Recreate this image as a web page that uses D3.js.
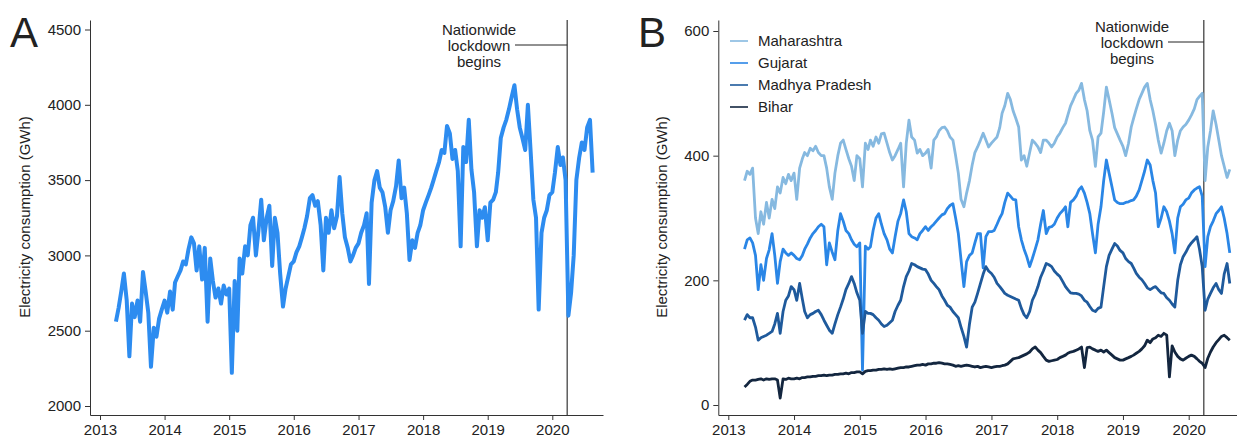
<!DOCTYPE html>
<html>
<head>
<meta charset="utf-8">
<script src="https://cdn.jsdelivr.net/npm/d3@7"></script>
<style>
  body { margin: 0; background: #fff; }
  text { font-family: "Liberation Sans", Arial, Helvetica, sans-serif; fill: #222; }
</style>
</head>
<body>
<script>
// semi-monthly readings (1st and 16th of each month), Apr 2013 - Aug 2020
let yearTicks = [2013, 2014, 2015, 2016, 2017, 2018, 2019, 2020];
let ticksA = [2000, 2500, 3000, 3500, 4000, 4500];
let ticksB = [0, 200, 400, 600];
let lockdown = new Date(2020, 2, 25);
let noteLines = ["Nationwide", "lockdown", "begins"];

let india = [
  2560,2650,2760,2880,2700,2330,2680,2590,2700,2560,2890,2760,2620,2260,2520,2460,2580,2640,
  2700,2620,2760,2640,2820,2860,2900,2960,2940,3040,3120,3080,2900,3060,2840,3050,2560,2980,2830,2720,2780,2680,2800,2740,
  2780,2220,2830,2500,2980,2880,3060,3000,3200,3250,3000,3170,3370,3100,3250,3330,2930,3250,3150,2880,2660,2780,2860,2940,
  2960,3020,3060,3120,3180,3260,3380,3400,3330,3360,3200,2900,3250,3150,3300,3180,3260,3520,3280,3120,3050,2960,3000,3050,
  3080,3150,3200,3280,2810,3350,3500,3560,3450,3420,3320,3150,3300,3360,3460,3630,3380,3450,3280,2970,3100,3050,3150,3200,
  3300,3350,3400,3450,3500,3560,3620,3700,3680,3860,3810,3640,3700,3560,3060,3720,3620,3900,3570,3420,3060,3300,3250,3320,
  3100,3350,3370,3420,3550,3780,3850,3900,3970,4050,4130,3970,3850,3780,3700,4000,3680,3370,3250,2640,3150,3250,3300,3400,
  3420,3550,3720,3600,3650,3500,2600,2750,3000,3500,3650,3750,3700,3850,3900,3550
];

let maharashtra = [
  360,375,370,380,300,275,310,290,325,300,330,315,350,340,365,355,370,360,
  372,330,380,395,405,400,412,408,415,405,400,400,380,350,330,372,400,420,425,410,395,383,360,400,
  395,350,420,410,425,415,430,420,435,436,420,405,393,400,410,420,350,420,457,430,425,404,410,400,
  404,410,380,425,430,440,445,446,440,430,425,400,372,330,318,340,360,385,405,414,425,436,425,414,
  420,425,430,445,468,480,500,490,472,460,446,393,400,383,405,425,420,414,405,425,425,420,414,420,
  430,436,445,452,465,480,490,500,505,516,490,472,440,425,383,430,436,470,510,490,468,445,435,425,
  415,400,420,446,460,475,490,500,510,516,490,472,450,425,404,420,440,452,440,400,425,440,446,450,
  457,465,475,490,495,500,360,414,440,472,450,425,400,383,365,378
];

let gujarat = [
  250,265,268,260,240,185,225,200,235,249,275,240,195,230,250,244,240,244,
  240,235,233,240,250,258,268,275,280,286,290,286,225,260,245,233,280,307,295,280,275,265,258,254,
  260,56,255,250,254,280,300,307,290,275,265,250,244,270,295,307,329,310,275,270,268,265,275,280,
  286,280,286,290,295,300,305,307,315,320,323,300,275,233,190,230,240,244,260,275,275,220,270,278,
  278,280,290,300,307,325,340,335,330,329,286,265,250,238,222,235,250,265,290,312,275,285,286,290,
  300,307,312,318,286,325,329,335,345,350,340,325,307,275,244,290,318,360,393,372,350,329,325,323,
  323,325,326,328,329,335,345,360,375,393,385,360,340,286,300,318,310,295,275,244,300,318,322,329,
  332,340,345,348,350,335,222,270,286,295,307,312,318,300,275,244
];

let madhyaPradesh = [
  136,145,140,140,125,104,108,110,112,115,118,130,147,115,150,168,175,190,
  185,168,195,170,150,140,145,147,150,152,145,136,128,120,115,130,145,157,170,185,195,206,195,180,
  168,115,150,147,147,145,140,136,130,126,128,132,136,150,160,168,190,206,215,227,225,222,220,218,
  217,210,200,195,190,185,175,168,160,157,150,145,140,125,110,93,130,157,165,179,195,210,222,215,
  211,205,195,190,185,179,176,174,172,170,168,155,145,140,150,168,178,190,205,215,227,225,222,215,
  210,206,198,190,185,180,179,179,178,175,168,165,158,152,150,155,157,190,222,240,250,259,255,248,
  244,235,230,227,220,211,205,201,195,188,185,188,190,185,180,179,172,168,162,157,200,225,238,245,
  254,260,265,270,250,222,152,170,179,188,195,185,179,210,227,195
];

let bihar = [
  29,33,38,40,40,41,42,40,42,41,42,42,40,11,42,41,43,42,
  42,43,42,44,44,45,45,46,46,47,47,48,47,48,48,49,49,50,50,51,50,52,52,53,
  53,50,54,55,55,56,56,57,57,58,57,58,57,58,59,60,60,61,61,62,63,64,64,65,
  64,66,66,67,67,68,67,66,66,65,64,62,63,62,63,64,63,62,61,62,60,61,62,61,
  60,61,62,62,63,64,66,70,74,75,76,78,80,82,85,90,93,88,84,78,72,70,71,72,
  73,76,78,80,83,85,86,88,90,93,60,92,93,90,88,86,88,85,88,84,80,76,74,72,
  72,74,76,78,80,83,86,90,95,104,100,106,108,112,110,115,112,45,95,85,78,74,72,75,
  78,80,78,74,70,67,60,75,85,93,100,105,110,112,108,104
];

let states = ["Maharashtra", "Gujarat", "Madhya Pradesh", "Bihar"];
let stateValues = [maharashtra, gujarat, madhyaPradesh, bihar];
let stateColors = ["#86b9e0", "#2a86e6", "#1f5a9c", "#13263f"];

let months = d3.timeMonth.range(new Date(2013, 3, 1), new Date(2020, 8, 1));
let dates = months.flatMap(m => [m, d3.timeDay.offset(m, 15)]);

let width = 1237, height = 439;
let svg = d3.select("body").append("svg")
  .attr("width", width)
  .attr("height", height);

function makePanel(o) {
  // x: place 2013 and 2020 ticks, then stretch domain to the axis ends
  let x = d3.scaleTime()
    .domain([new Date(2013, 0, 1), new Date(2020, 0, 1)])
    .range([o.x2013, o.x2020]);
  x.domain([x.invert(o.left), x.invert(o.right)]).range([o.left, o.right]);

  let y = d3.scaleLinear().domain(o.yDom).range(o.yPix);
  y.domain([y.invert(415), y.invert(20)]).range([415, 20]);

  let g = svg.append("g");

  g.append("g")
    .attr("transform", "translate(0,415)")
    .call(d3.axisBottom(x)
      .tickValues(yearTicks.map(d => new Date(d, 0, 1)))
      .tickFormat(d3.timeFormat("%Y"))
      .tickSize(5).tickSizeOuter(0).tickPadding(4));

  g.append("g")
    .attr("transform", "translate(" + o.left + ",0)")
    .call(d3.axisLeft(y)
      .tickValues(o.ticks)
      .tickFormat(d3.format("d"))
      .tickSize(5).tickSizeOuter(0).tickPadding(4));

  g.selectAll(".domain, .tick line").attr("stroke", "#333");
  g.selectAll(".tick text")
    .attr("font-family", null)
    .style("font-size", "15px");

  // y label
  g.append("text")
    .attr("transform", "translate(" + o.labelX + ",217) rotate(-90)")
    .attr("text-anchor", "middle")
    .attr("dy", "0.35em")
    .style("font-size", "15px")
    .text("Electricity consumption (GWh)");

  // panel letter
  g.append("text")
    .attr("x", o.letterX).attr("y", 47)
    .style("font-size", "42px")
    .text(o.letter);

  // lockdown line + note
  let lx = x(lockdown);
  g.append("line")
    .attr("x1", lx).attr("x2", lx)
    .attr("y1", 20).attr("y2", 415)
    .attr("stroke", "#222").attr("stroke-width", 1.1);

  g.append("line")
    .attr("x1", o.noteX + 36).attr("x2", lx)
    .attr("y1", o.noteY + 15).attr("y2", o.noteY + 15)
    .attr("stroke", "#222").attr("stroke-width", 1);

  g.selectAll(".note")
    .data(noteLines)
    .enter()
    .append("text")
    .attr("x", o.noteX)
    .attr("y", (d, i) => o.noteY + i * 16)
    .attr("dy", "0.35em")
    .attr("text-anchor", "middle")
    .style("font-size", "15px")
    .text(d => d);

  return {x: x, y: y, g: g};
}

// Panel A
let A = makePanel({
  left: 90, right: 603, x2013: 100, x2020: 552.3,
  yDom: [2000, 4500], yPix: [406, 29.5], ticks: ticksA,
  labelX: 25, letter: "A", letterX: 10, noteX: 479, noteY: 30
});

let lineA = d3.line()
  .x((d, i) => A.x(dates[i]))
  .y(d => A.y(d));

A.g.append("path")
  .datum(india)
  .attr("fill", "none")
  .attr("stroke", "#2d8cf0")
  .attr("stroke-width", 4)
  .attr("stroke-linejoin", "round")
  .attr("d", lineA);

// Panel B
let B = makePanel({
  left: 718.3, right: 1237, x2013: 728.3, x2020: 1188.7,
  yDom: [0, 600], yPix: [405, 31], ticks: ticksB,
  labelX: 661.5, letter: "B", letterX: 638, noteX: 1132, noteY: 27
});

let lineB = d3.line()
  .x((d, i) => B.x(dates[i]))
  .y(d => B.y(d));

B.g.selectAll(".state")
  .data(stateValues)
  .enter()
  .append("path")
  .attr("fill", "none")
  .attr("stroke", (d, i) => stateColors[i])
  .attr("stroke-width", 2.8)
  .attr("stroke-linejoin", "round")
  .attr("d", lineB);

// legend
let legend = B.g.selectAll(".legend")
  .data(states)
  .enter()
  .append("g")
  .attr("transform", (d, i) => "translate(730," + (41 + i * 22) + ")");

legend.append("line")
  .attr("x1", 0).attr("x2", 18)
  .attr("stroke", (d, i) => stateColors[i])
  .attr("stroke-width", 1.6);

legend.append("text")
  .attr("x", 28)
  .attr("dy", "0.35em")
  .style("font-size", "15px")
  .text(d => d);
</script>
</body>
</html>
